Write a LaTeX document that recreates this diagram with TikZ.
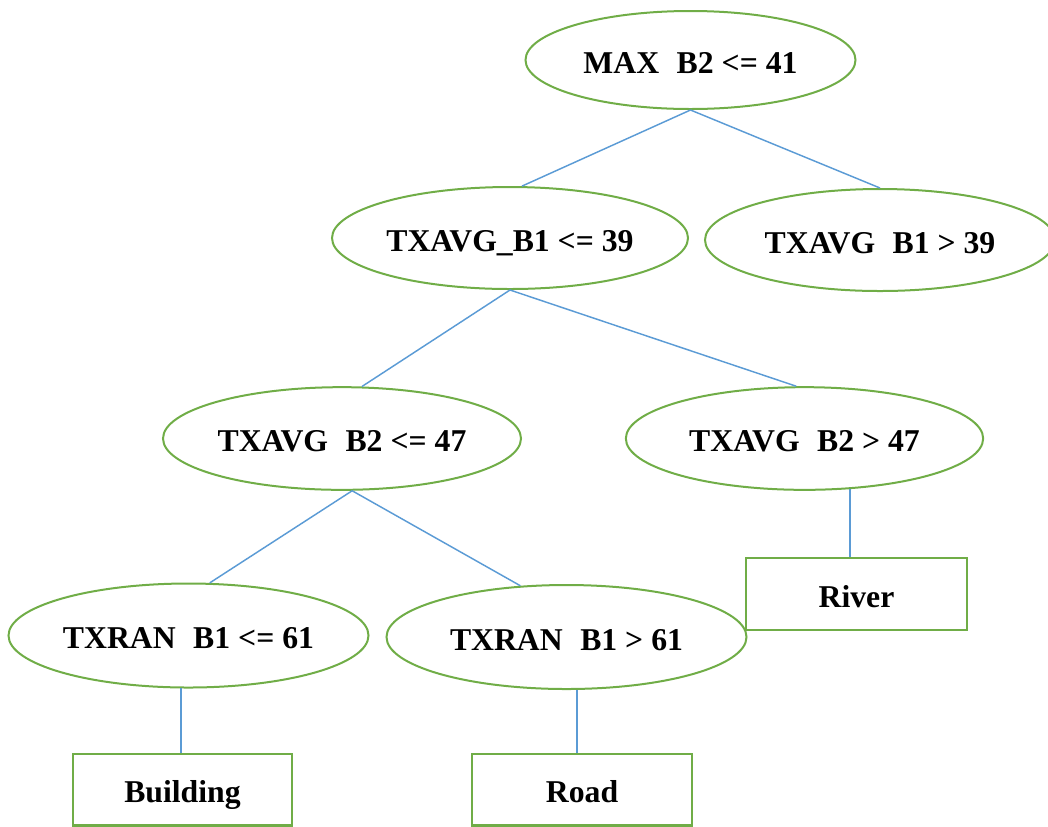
\documentclass[tikz,border=0pt]{standalone}
\usepackage{fontspec}
\setmainfont{Liberation Serif}
\usetikzlibrary{shapes.geometric}
\definecolor{leafgreen}{HTML}{70AD47}
\definecolor{linkblue}{HTML}{5B9BD5}
\tikzset{
  split/.style={ellipse, draw=leafgreen, line width=1.5pt, inner sep=0pt,
    font=\fontsize{23.8}{28}\bfseries, text height=19.5pt, text depth=0pt},
  leaf/.style={rectangle, draw=leafgreen, line width=2pt, inner sep=0pt,
    font=\fontsize{23.8}{28}\bfseries, text height=20pt, text depth=0pt,
    minimum height=53.5pt},
  link/.style={draw=linkblue, line width=1.1pt}
}
\newcommand{\gap}{\hspace{0.55em}}
\begin{document}
\begin{tikzpicture}[x=0.75pt, y=-0.75pt]
\useasboundingbox (0,0) rectangle (1048,826);

% decision nodes
\node[split, minimum width=247.5pt, minimum height=73.5pt] (root) at (690.5,60) {MAX\gap B2 <= 41};
\node[split, minimum width=267pt, minimum height=76.5pt] (avgle) at (510,238) {TXAVG\_B1 <= 39};
\node[split, minimum width=262.5pt, minimum height=76.5pt] (avggt) at (880,240) {TXAVG\gap B1 > 39};
\node[split, minimum width=268.5pt, minimum height=77pt] (btwole) at (342,438.5) {TXAVG\gap B2 <= 47};
\node[split, minimum width=268pt, minimum height=77pt] (btwogt) at (804.5,438.5) {TXAVG\gap B2 > 47};
\node[split, minimum width=270pt, minimum height=78pt] (ranle) at (188.5,635.5) {TXRAN\gap B1 <= 61};
\node[split, minimum width=270pt, minimum height=78pt] (rangt) at (566.5,637) {TXRAN\gap B1 > 61};

% class leaves
\node[leaf, minimum width=164.25pt] (building) at (182.5,789.5) {Building};
\node[leaf, minimum width=165pt] (road) at (582,789.5) {Road};
\node[leaf, minimum width=165.75pt, minimum height=54pt] (river) at (856.5,594) {River};

% branches
\draw[link] (root.south) -- (avgle.77);
\draw[link] (root.south) -- (avggt.north);
\draw[link] (avgle.south) -- (btwole.69);
\draw[link] (avgle.south) -- (btwogt.99);
\draw[link] (btwole.-79) -- (ranle.68);
\draw[link] (btwole.-79) -- (rangt.132);
\draw[link] (btwogt.-48) -- (btwogt.-48 |- river.north);
\draw[link] (ranle.-98) -- (ranle.-98 |- building.north);
\draw[link] (rangt.-79) -- (rangt.-79 |- road.north);
\end{tikzpicture}
\end{document}
